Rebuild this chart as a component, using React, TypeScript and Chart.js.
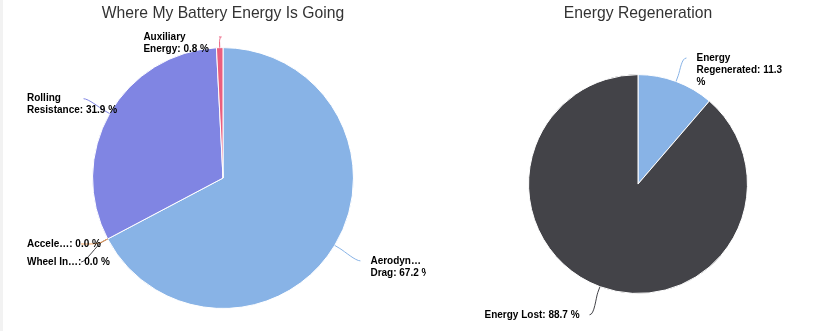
import React, { useEffect, useRef } from "react";
import { Chart, registerables } from "chart.js";

Chart.register(...registerables);

// ---------- data ----------
const batteryTitle = "Where My Battery Energy Is Going";
const batteryCategories = ["Aerodyn…\nDrag", "Wheel In…", "Accele…", "Rolling\nResistance", "Auxiliary\nEnergy"];
const batteryValues = [67.2, 0.0, 0.0, 31.9, 0.8];
const batteryColors = ["#88b3e6", "#434348", "#f7a35c", "#8085e3", "#ea5e7e"];

const regenTitle = "Energy Regeneration";
const regenCategories = ["Energy\nRegenerated", "Energy Lost"];
const regenValues = [11.3, 88.7];
const regenColors = ["#88b3e6", "#434348"];

const FONT_FAMILY = "'Liberation Sans', Arial, sans-serif";

// ---------- helpers ----------
function wrapLine(ctx: CanvasRenderingContext2D, line: string, maxW: number): string[] {
  if (!isFinite(maxW) || ctx.measureText(line).width <= maxW) return [line];
  const words = line.split(" ");
  const out: string[] = [];
  let cur = "";
  for (const w of words) {
    const test = cur ? cur + " " + w : w;
    if (cur && ctx.measureText(test).width > maxW) {
      out.push(cur);
      cur = w;
    } else {
      cur = test;
    }
  }
  if (cur) out.push(cur);
  return out;
}

function distribute(boxes: any[], minTop: number, maxBottom: number) {
  type G = { boxes: any[]; top: number; total: number };
  const place = (g: G) => {
    let acc = 0;
    let mean = 0;
    g.boxes.forEach((b) => {
      mean += b.target - acc;
      acc += b.size;
    });
    mean /= g.boxes.length;
    g.total = acc;
    g.top = Math.min(Math.max(mean, minTop), maxBottom - acc);
  };
  const groups: G[] = boxes.map((b) => ({ boxes: [b], top: 0, total: 0 }));
  groups.forEach(place);
  let merged = true;
  while (merged) {
    merged = false;
    for (let k = 0; k < groups.length - 1; k++) {
      if (groups[k].top + groups[k].total > groups[k + 1].top + 0.01) {
        groups[k].boxes.push(...groups[k + 1].boxes);
        groups.splice(k + 1, 1);
        place(groups[k]);
        merged = true;
        break;
      }
    }
  }
  groups.forEach((g) => {
    let acc = g.top;
    g.boxes.forEach((b) => {
      b.top = acc;
      acc += b.size;
    });
  });
}

const pieLabelsPlugin = {
  id: "pieLabels",
  afterDatasetsDraw(chart: any, _args: any, opts: any) {
    const ctx: CanvasRenderingContext2D = chart.ctx;
    const meta = chart.getDatasetMeta(0);
    const ds = chart.data.datasets[0];
    const names = chart.data.labels;
    const lh = opts.lineHeight;
    const boxPad = opts.boxPad;
    ctx.save();
    ctx.font = opts.font;
    const items: any[] = [];
    meta.data.forEach((arc: any, i: number) => {
      const p = arc.getProps(["x", "y", "startAngle", "endAngle", "outerRadius"], true);
      const mid = (p.startAngle + p.endAngle) / 2;
      const cos = Math.cos(mid);
      const sin = Math.sin(mid);
      const r = p.outerRadius;
      const right = cos >= 0;
      const ax = p.x + (r + opts.distance) * cos;
      const ay = p.y + (r + opts.distance) * sin;
      const text = `${names[i]}: ${Number(ds.data[i]).toFixed(1)} %`;
      const maxW = right ? opts.maxRight - (ax + opts.padding) : Infinity;
      const lines: string[] = [];
      text.split("\n").forEach((l) => wrapLine(ctx, l, maxW).forEach((x) => lines.push(x)));
      const size = lines.length * lh + boxPad;
      items.push({
        i, right, cos, sin, cx: p.x, cy: p.y, r, ax, ay, lines, size,
        target: ay - lh / 2 - boxPad / 2,
        color: ds.backgroundColor[i],
      });
    });
    [true, false].forEach((side) => {
      const half = items.filter((it) => it.right === side);
      half.sort((a, b) => a.target - b.target || (side ? a.i - b.i : b.i - a.i));
      distribute(half, opts.minTop, opts.maxBottom);
    });
    // connectors
    items.forEach((it) => {
      const y = it.top + boxPad / 2 + lh / 2;
      it.y = y;
      const tx = it.cx + it.r * it.cos;
      const ty = it.cy + it.r * it.sin;
      const br = it.r + opts.breakOffset;
      const bx = it.cx + br * it.cos;
      const by = it.cy + br * it.sin;
      const lx = it.ax;
      ctx.beginPath();
      ctx.moveTo(lx, y);
      ctx.bezierCurveTo(lx + (it.right ? -5 : 5), y, 2 * bx - tx, 2 * by - ty, bx, by);
      ctx.lineTo(tx, ty);
      ctx.strokeStyle = it.color;
      ctx.lineWidth = 1;
      ctx.stroke();
    });
    // texts
    ctx.fillStyle = opts.color;
    ctx.textBaseline = "middle";
    ctx.textAlign = "left";
    items.forEach((it) => {
      const w = Math.max(...it.lines.map((l: string) => ctx.measureText(l).width));
      let left = it.right ? it.ax + opts.padding : it.ax - opts.padding - w;
      if (left < opts.minLeft) left = opts.minLeft;
      it.lines.forEach((l: string, k: number) => {
        ctx.fillText(l, left, it.y + k * lh);
      });
    });
    ctx.restore();
  },
};

type PieProps = {
  title: string;
  categories: string[];
  values: number[];
  colors: string[];
  width: number;
  height: number;
  left: number;
  pad: { left: number; right: number; top: number; bottom: number };
  titleBottom: number;
  minTop: number;
  minLeft: number;
  maxRight: number;
};

function PieChart(props: PieProps) {
  const ref = useRef<HTMLCanvasElement | null>(null);
  useEffect(() => {
    if (!ref.current) return;
    const chart = new Chart(ref.current, {
      type: "pie",
      data: {
        labels: props.categories,
        datasets: [
          {
            data: props.values,
            backgroundColor: props.colors,
            borderColor: "#ffffff",
            borderWidth: 1,
            hoverOffset: 0,
          },
        ],
      },
      options: {
        responsive: false,
        animation: false,
        events: [],
        layout: { padding: props.pad },
        plugins: {
          legend: { display: false },
          tooltip: { enabled: false },
          title: {
            display: true,
            text: props.title,
            color: "#333333",
            font: { family: FONT_FAMILY, size: 15.7, weight: "normal" },
            padding: { top: 4, bottom: props.titleBottom },
          },
          pieLabels: {
            distance: 30,
            padding: 10,
            breakOffset: 6,
            lineHeight: 12,
            boxPad: 6,
            font: `bold 10px ${FONT_FAMILY}`,
            color: "#000000",
            minTop: props.minTop,
            maxBottom: 328,
            minLeft: props.minLeft,
            maxRight: props.maxRight,
          },
        },
      } as any,
      plugins: [pieLabelsPlugin as any],
    });
    return () => chart.destroy();
  }, []);
  return (
    <canvas
      ref={ref}
      width={props.width}
      height={props.height}
      style={{ position: "absolute", left: props.left, top: 0, width: props.width, height: props.height }}
    />
  );
}

export default function App() {
  return (
    <div style={{ position: "fixed", left: 0, top: 0, width: 814, height: 331, background: "#ffffff", overflow: "hidden" }}>
      <div style={{ position: "absolute", left: 0, top: 0, width: 3, height: 331, background: "#f2f2f2" }} />
      <PieChart
        title={batteryTitle}
        categories={batteryCategories}
        values={batteryValues}
        colors={batteryColors}
        width={426}
        height={331}
        left={0}
        pad={{ left: 92, right: 72, top: 0, bottom: 22 }}
        titleBottom={24.28}
        minTop={28}
        minLeft={27}
        maxRight={Infinity}
      />
      <PieChart
        title={regenTitle}
        categories={regenCategories}
        values={regenValues}
        colors={regenColors}
        width={388}
        height={331}
        left={426}
        pad={{ left: 102, right: 66, top: 0, bottom: 37 }}
        titleBottom={51.28}
        minTop={49}
        minLeft={0}
        maxRight={359}
      />
    </div>
  );
}
